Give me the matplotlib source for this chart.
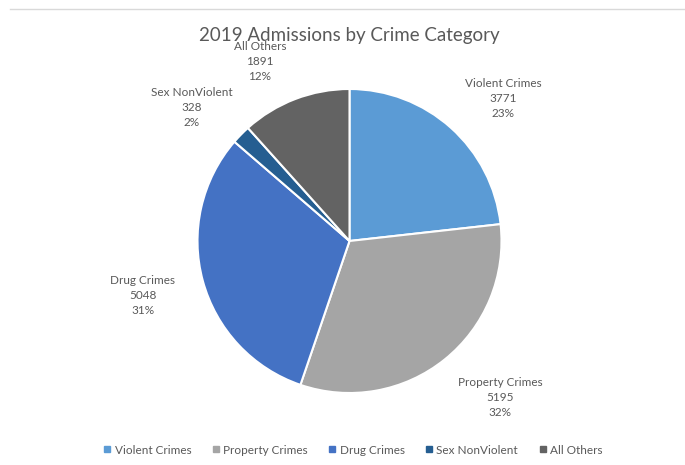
import matplotlib
matplotlib.use("Agg")
import matplotlib.pyplot as plt
from matplotlib.lines import Line2D

# Admissions by crime category, 2019
categories = ["Violent Crimes", "Property Crimes", "Drug Crimes", "Sex NonViolent", "All Others"]
admissions = [3771, 5195, 5048, 328, 1891]
colors = ["#5B9BD5", "#A5A5A5", "#4472C4", "#255E91", "#636363"]

# label anchor points (pie radius = 1)
label_xy = [(1.01, 0.94), (0.99, -1.03), (-1.36, -0.36), (-1.04, 0.88), (-0.59, 1.18)]

plt.rcParams["font.family"] = ["Lato", "DejaVu Sans"]
text_color = "#595959"

fig = plt.figure(figsize=(6.85, 4.65), dpi=100)
fig.patch.set_facecolor("white")

# thin rule across the top
fig.add_artist(Line2D([10 / 685, 1.0], [1 - 9.5 / 465] * 2, color="#D9D9D9", lw=1.0,
                      transform=fig.transFigure))

cx, cy, r = 349.5, 241, 152
ax = fig.add_axes([(cx - r) / 685, 1 - (cy + r) / 465, 2 * r / 685, 2 * r / 465])

wedges, _ = ax.pie(admissions, colors=colors, startangle=90, counterclock=False,
                   radius=1.0, wedgeprops=dict(edgecolor="white", linewidth=1.5))
ax.set_xlim(-1, 1)
ax.set_ylim(-1, 1)
ax.set_aspect("auto")
ax.axis("off")

total = sum(admissions)
for name, val, (lx, ly) in zip(categories, admissions, label_xy):
    pct = round(100 * val / total)
    ax.text(lx, ly, f"{name}\n{val}\n{pct}%", ha="center", va="center",
            fontsize=8.5, color=text_color, linespacing=1.45, clip_on=False)

fig.text(cx / 685, 1 - 35 / 465, "2019 Admissions by Crime Category", ha="center",
         va="center", fontsize=13.5, color=text_color)

handles = [Line2D([], [], marker="s", linestyle="none", markersize=5,
                  markerfacecolor=c, markeredgecolor=c) for c in colors]
fig.legend(handles, categories, loc="center", bbox_to_anchor=(352 / 685, 1 - 450 / 465),
           ncol=5, frameon=False, fontsize=8.5, labelcolor=text_color,
           handletextpad=0.1, columnspacing=1.6, handlelength=1.0)

fig.savefig("out.png", dpi=100, facecolor="white")
